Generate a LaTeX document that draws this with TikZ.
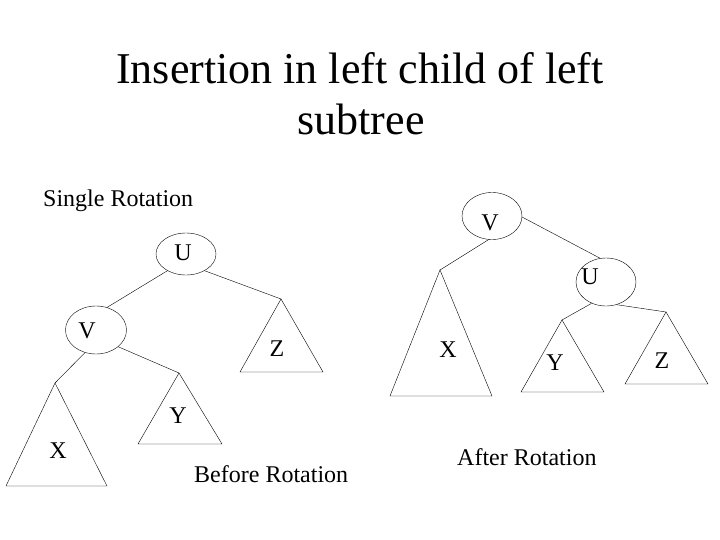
\documentclass[tikz,border=0pt]{standalone}
\usepackage{fontspec}
\setmainfont{Liberation Serif}
\usetikzlibrary{shapes.geometric}
\begin{document}
\begin{tikzpicture}[x=1pt,y=-1pt,
  ell/.style={draw,ellipse,inner sep=0pt,minimum width=60pt,minimum height=46pt},
  lbl/.style={inner sep=0pt,font=\fontsize{24}{27}\selectfont},
  txt/.style={inner sep=0pt,anchor=base west,font=\fontsize{24}{27}\selectfont},
  tri/.style={draw,line join=miter},
  edge/.style={draw}]
\useasboundingbox (0,0) rectangle (720,540);
% title
\node[inner sep=0pt,anchor=base,font=\fontsize{44}{50}\selectfont] (t1) at (360,84) {Insertion in left child of left};
\node[inner sep=0pt,anchor=base,font=\fontsize{44}{50}\selectfont] (t2) at (361,135) {subtree};
\node[txt] (single) at (43,207) {Single Rotation};
% ---------- before rotation ----------
\node[ell,minimum width=60pt,minimum height=42pt] (lU) at (186,254) {};
\node[ell,minimum width=61pt,minimum height=48pt] (lV) at (96,330) {};
\coordinate (lZa) at (281,299);
\coordinate (lYa) at (179,373);
\coordinate (lXa) at (55,383);
\draw[tri] (lZa) -- (240,372) -- (323,372) -- cycle;
\draw[tri] (lYa) -- (138,444) -- (222,444) -- cycle;
\draw[tri] (lXa) -- (6,486) -- (107,486) -- cycle;
\draw[edge] (lU.222) -- (lV.64);
\draw[edge] (lU.318) -- (lZa);
\draw[edge] (lV.244) -- (lXa);
\draw[edge] (lV.323) -- (lYa);
\node[lbl] (lUt) at (183,253) {U};
\node[lbl] (lVt) at (87,331) {V};
\node[lbl] (lZt) at (277,349) {Z};
\node[lbl] (lYt) at (178,416) {Y};
\node[lbl] (lXt) at (58,451) {X};
\node[txt] (before) at (194,482) {Before Rotation};
% ---------- after rotation ----------
\node[ell,minimum width=60pt,minimum height=47pt] (rV) at (492,216) {};
\node[ell,minimum width=60pt,minimum height=48pt] (rU) at (606,282) {};
\coordinate (rXa) at (440,270);
\coordinate (rYa) at (562,320);
\coordinate (rZa) at (666,312);
\draw[tri] (rXa) -- (390,396) -- (492,396) -- cycle;
\draw[tri] (rYa) -- (521,392) -- (604,392) -- cycle;
\draw[tri] (rZa) -- (625,384) -- (708,384) -- cycle;
\draw[edge] (rV.262) -- (rXa);
\draw[edge] (rV.358) -- (rU.104);
\draw[edge] (rU.236) -- (rYa);
\draw[edge] (rU.295) -- (rZa);
\node[lbl] (rVt) at (490,223) {V};
\node[lbl] (rUt) at (590,277) {U};
\node[lbl] (rXt) at (448,350) {X};
\node[lbl] (rYt) at (555,363) {Y};
\node[lbl] (rZt) at (662,361) {Z};
\node[txt] (after) at (457,465) {After Rotation};
\end{tikzpicture}
\end{document}
